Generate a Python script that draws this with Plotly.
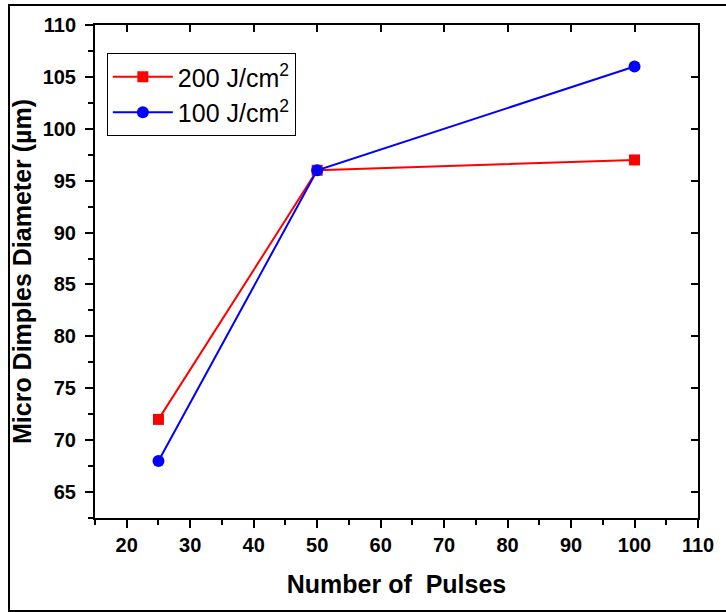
import plotly.graph_objects as go

pulses = [25, 50, 100]
d200 = [72, 96, 97]
d100 = [68, 96, 106]
names = ["200 J/cm<sup>2</sup>", "100 J/cm<sup>2</sup>"]
x_title = "Number of  Pulses"
y_title = "Micro Dimples Diameter (µm)"

W, H = 726, 612
ml, mr, mt, mb = 95, 21, 25, 94
pw, ph = W - ml - mr, H - mt - mb

fig = go.Figure()
fig.add_trace(go.Scatter(x=pulses, y=d200, name=names[0], mode="lines+markers",
                         line=dict(color="#ff0000", width=2),
                         marker=dict(symbol="square", size=11, color="#ff0000")))
fig.add_trace(go.Scatter(x=pulses, y=d100, name=names[1], mode="lines+markers",
                         xaxis="x2", yaxis="y2",
                         line=dict(color="#0000ff", width=2),
                         marker=dict(symbol="circle", size=12, color="#0000ff")))

tickfont = dict(family="Liberation Sans, Arial", size=20, color="black")
titlefont = dict(family="Liberation Sans, Arial", size=25, color="black")

fig.update_layout(
    width=W, height=H,
    margin=dict(l=ml, r=mr, t=mt, b=mb),
    paper_bgcolor="white", plot_bgcolor="white",
    font=dict(family="Liberation Sans, Arial", color="black"),
    xaxis=dict(range=[15, 110], dtick=10, tick0=0, showgrid=False, zeroline=False,
               showline=True, mirror=True, linecolor="black", linewidth=2,
               ticks="outside", ticklen=8, tickwidth=2, tickcolor="black",
               minor=dict(ticks="outside", ticklen=5, tickwidth=2, dtick=5, tickcolor="black"),
               tickfont=tickfont, tickprefix="<b>", ticksuffix="</b>",
               title=dict(text="<b>" + x_title + "</b>", font=titlefont, standoff=20)),
    yaxis=dict(range=[62.5, 110], dtick=5, tick0=0, showgrid=False, zeroline=False,
               showline=True, mirror=True, linecolor="black", linewidth=2,
               ticks="outside", ticklen=8, tickwidth=2, tickcolor="black",
               minor=dict(ticks="outside", ticklen=5, tickwidth=2, dtick=2.5, tickcolor="black"),
               tickfont=tickfont, tickprefix="<b>", ticksuffix="</b>", ticklabelstandoff=5,
               title=dict(text="<b>" + y_title + "</b>", font=titlefont, standoff=4)),
    xaxis2=dict(matches="x", overlaying="x", side="top", showgrid=False, zeroline=False,
                showline=True, linecolor="black", linewidth=2, range=[15, 110], dtick=10, tick0=0,
                ticks="inside", ticklen=7, tickwidth=2, tickcolor="black", showticklabels=False),
    yaxis2=dict(matches="y", overlaying="y", side="right", showgrid=False, zeroline=False,
                showline=True, linecolor="black", linewidth=2, range=[62.5, 110], dtick=5, tick0=0,
                ticks="inside", ticklen=7, tickwidth=2, tickcolor="black", showticklabels=False),
    legend=dict(x=(107 - ml) / pw, y=1 - (53 - mt) / ph, xanchor="left", yanchor="top",
                bordercolor="black", borderwidth=1, bgcolor="white",
                font=dict(family="Liberation Sans, Arial", size=25, color="black"),
                itemwidth=60, tracegroupgap=0),
    showlegend=True,
    shapes=[dict(type="rect", xref="paper", yref="paper",
                 x0=(8 - ml) / pw, x1=(740 - ml) / pw,
                 y0=-(611 - mt - ph) / ph, y1=1 + (mt - 5) / ph,
                 line=dict(color="black", width=2), fillcolor="rgba(0,0,0,0)", layer="above")],
)

fig.write_html("out.html")
